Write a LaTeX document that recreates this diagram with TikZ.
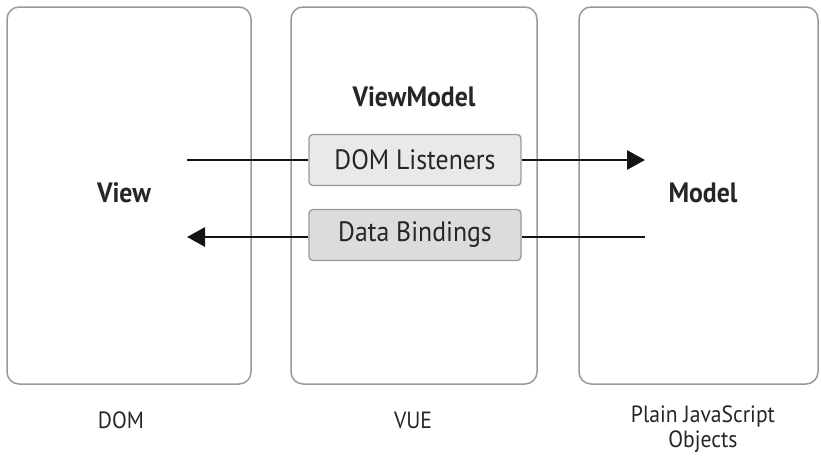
\documentclass[tikz,border=0pt]{standalone}
\usepackage{fontspec}
\setmainfont{PT Sans}[FakeStretch=0.92]
\usetikzlibrary{arrows.meta}
\definecolor{frame}{HTML}{999999}
\definecolor{txt}{HTML}{262626}
\definecolor{fillA}{HTML}{E9E9E9}
\definecolor{fillB}{HTML}{DCDCDC}
\begin{document}
\begin{tikzpicture}[x=1pt,y=-1pt,
  panel/.style={draw=frame,line width=1.5pt,rounded corners=12pt},
  inner/.style={draw=frame,line width=1.3pt,rounded corners=4pt,minimum width=212pt,minimum height=51pt,inner sep=0pt,text=txt,font=\fontsize{28}{32}\selectfont},
  title/.style={text=txt,font=\bfseries\fontsize{28}{32}\selectfont},
  caption/.style={text=txt,font=\fontsize{23.5}{25}\selectfont,align=center},
  conn/.style={line width=2.8pt,draw=black!92},
  tip/.style={-{Triangle[length=18pt,width=19pt]}}]
\useasboundingbox (0,0) rectangle (821,464);
\draw[panel] (7,7) rectangle (251,384);
\draw[panel] (291,7) rectangle (537,384);
\draw[panel] (579,7) rectangle (818,384);
\node[title] (view) at (124,193) {View};
\node[title] (vm) at (414,97) {ViewModel};
\node[title] (model) at (703,193) {Model};
\node[inner,fill=fillA] (dl) at (415,160) {DOM Listeners};
\node[inner,fill=fillB] (db) at (415,235) {Data Bindings};
\coordinate (a1) at (187,160);
\coordinate (a2) at (645,160);
\coordinate (b1) at (645,237);
\coordinate (b2) at (187,237);
\draw[conn] (a1) -- (dl.west);
\draw[conn,tip] (dl.east) -- (a2);
\draw[conn] (b1) -- (db.east |- b1);
\draw[conn,tip] (db.west |- b2) -- (b2);
\node[caption] (dom) at (121,420) {DOM};
\node[caption] (vue) at (413,420) {VUE};
\node[caption] (plain) at (703,429) {Plain JavaScript\\Objects};
\end{tikzpicture}
\end{document}
